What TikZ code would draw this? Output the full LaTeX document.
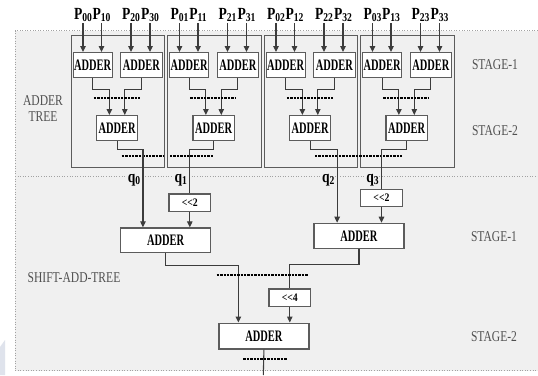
\documentclass[tikz,border=0pt]{standalone}
\usepackage{fontspec}
\setmainfont{Liberation Serif}
\usepackage{graphicx}
\usetikzlibrary{arrows.meta}

% horizontally condensed text
\newcommand{\narrowtxt}[2][0.76]{\scalebox{#1}[1]{#2}}
% lowered, smaller index digits
\newcommand{\subidx}[1]{\raisebox{-0.3ex}{\fontsize{12}{12}\selectfont #1}}

\definecolor{bgfill}{HTML}{F0F0F0}
\definecolor{boxline}{HTML}{5C5C5C}
\definecolor{wireline}{HTML}{3C3C3C}
\definecolor{dotline}{HTML}{A2A2A2}
\definecolor{sidetext}{HTML}{505050}
\definecolor{pagetint}{HTML}{DFE3EC}

\tikzset{
  addbox/.style={draw=boxline, line width=1.3pt, fill=white, inner sep=0pt,
    anchor=north west, font=\fontsize{16}{16}\selectfont\bfseries},
  shiftbox/.style={draw=boxline, line width=1.3pt, fill=white, inner sep=0pt,
    anchor=north west, font=\fontsize{11.5}{11.5}\selectfont\bfseries},
  groupbox/.style={draw=boxline, line width=1.2pt, inner sep=0pt, anchor=north west},
  wire/.style={draw=wireline, line width=1.1pt},
  arr/.style={wire, -{Triangle[length=6pt,width=5.5pt]}},
  regline/.style={draw=black, line width=1.7pt, dash pattern=on 2.4pt off 1pt},
  dotborder/.style={draw=dotline, line width=1pt, dash pattern=on 1pt off 1.6pt},
  plabel/.style={inner sep=1pt, anchor=base, font=\fontsize{17}{17}\selectfont\bfseries},
  qlabel/.style={inner sep=0.6pt, anchor=base east, fill=bgfill,
    font=\fontsize{17}{17}\selectfont\bfseries},
  sidelabel/.style={text=sidetext, align=center, inner sep=0pt,
    font=\fontsize{15}{15.7}\selectfont},
}

\begin{document}
\begin{tikzpicture}[x=1pt, y=-1pt]
\useasboundingbox (0,0) rectangle (538,375);
\fill[white] (0,0) rectangle (538,375);

% shaded panel with dotted frame
\fill[pagetint] (0,347) -- (5,340) -- (5,375) -- (0,375) -- cycle;
\fill[bgfill] (15,30.7) rectangle (538,370.7);
\draw[dotborder] (538,30.7) -- (15,30.7) -- (15,370.7) -- (538,370.7);
\draw[dotborder] (15,176.7) -- (538,176.7);

% side captions
\node[sidelabel] (lbltree) at (43,108.5) {\narrowtxt[0.77]{ADDER}\\\narrowtxt[0.77]{TREE}};
\node[sidelabel] (lblshift) at (74,278) {\narrowtxt[0.77]{SHIFT-ADD-TREE}};
\node[sidelabel] (lbls1a) at (495,65) {\narrowtxt[0.77]{STAGE-1}};
\node[sidelabel] (lbls2a) at (495,131) {\narrowtxt[0.77]{STAGE-2}};
\node[sidelabel] (lbls1b) at (494,237) {\narrowtxt[0.77]{STAGE-1}};
\node[sidelabel] (lbls2b) at (494,337) {\narrowtxt[0.77]{STAGE-2}};

% four adder trees, one per column j
\foreach \g/\ox in {1/70.5, 2/167, 3/263.5, 4/360} {
  \pgfmathtruncatemacro{\j}{\g-1}
  \node[groupbox, minimum width=93.5pt, minimum height=131.7pt] (g\g) at (\ox,35) {};
  \node[addbox, minimum width=39pt, minimum height=24.7pt] (g\g-a) at (\ox+2,52) {\narrowtxt[0.65]{ADDER}};
  \node[addbox, minimum width=41.5pt, minimum height=24.7pt] (g\g-b) at (\ox+49.5,52) {\narrowtxt[0.65]{ADDER}};
  \node[addbox, minimum width=41.3pt, minimum height=25pt] (g\g-c) at (\ox+25.3,115) {\narrowtxt[0.65]{ADDER}};
  % inputs P_kj
  \foreach \k/\dx in {0/12.5, 1/31, 2/60.5, 3/79.5} {
    \node[plabel] (p\k-\j) at (\ox+\dx,19.5) {\narrowtxt[0.8]{P\subidx{\k\j}}};
    \draw[arr] (p\k-\j.south) -- (p\k-\j.south |- g\g-a.north);
  }
  % first-level sums into the second-level adder
  \draw[arr] (g\g-a.south) -- ++(0,11.3) -| ([xshift=-7.7pt]g\g-c.north);
  \draw[arr] (g\g-b.south) -- ++(0,11.3) -| ([xshift=7.7pt]g\g-c.north);
  \draw[regline] (\ox+23.3,98) -- (\ox+69.3,98);
}

% pipeline cuts below the adder trees
\draw[regline] (121.7,156) -- (164,156);
\draw[regline] (170,156) -- (213,156);
\draw[regline] (315,156) -- (403,156);

% shift-add tree
\node[shiftbox, minimum width=41.7pt, minimum height=17.4pt] (sh1) at (168.3,193.3) {\narrowtxt[0.85]{<{}<2}};
\node[addbox, minimum width=90pt, minimum height=24.4pt] (sL) at (120,227.3) {\narrowtxt[0.65]{ADDER}\hspace{17pt}};
\node[shiftbox, minimum width=41.7pt, minimum height=16.7pt] (sh2) at (360,189) {\narrowtxt[0.85]{<{}<2}};
\node[addbox, minimum width=90pt, minimum height=25pt] (sR) at (313.3,222.7) {\narrowtxt[0.65]{ADDER}\hspace{15pt}};
\node[shiftbox, minimum width=41.7pt, minimum height=17.7pt] (sh4) at (268.3,288.3) {\narrowtxt[0.85]{<{}<4}};
\node[addbox, minimum width=90pt, minimum height=25.8pt] (fin) at (218.3,322.5) {\narrowtxt[0.65]{ADDER}\hspace{15pt}};
\coordinate (out) at (263.3,375);

% partial sums q0..q3
\draw[arr] (g1-c.south) -- ++(0,8.3) -| ([xshift=-22.7pt]sL.north);
\draw[wire] (g2-c.south) -- ++(0,8.3) -| (sh1.north);
\draw[arr] (sh1.south) -- (sh1.south |- sL.north);
\draw[arr] (g3-c.south) -- ++(0,8.3) -| ([xshift=-21.8pt]sR.north);
\draw[wire] (g4-c.south) -- ++(0,8.3) -| (sh2.north);
\draw[arr] (sh2.south) -- (sh2.south |- sR.north);

\node[qlabel] (q0) at (141,182) {\narrowtxt[0.8]{q\subidx{0}}};
\node[qlabel] (q1) at (187.8,182) {\narrowtxt[0.8]{q\subidx{1}}};
\node[qlabel] (q2) at (335.2,182) {\narrowtxt[0.8]{q\subidx{2}}};
\node[qlabel] (q3) at (379.5,182) {\narrowtxt[0.8]{q\subidx{3}}};

% second stage of the shift-add tree
\draw[arr] (sL.south) -- ++(0,12.3) -| ([xshift=-25.6pt]fin.north);
\draw[wire] (sR.south) -- ++(0,15.6) -| (sh4.north);
\draw[arr] (sh4.south) -- (sh4.south |- fin.north);
\draw[regline] (216.7,275) -- (308.3,275);
\draw[wire] (fin.south) -- (out);
\draw[regline] (243.3,359) -- (287.3,359);
\end{tikzpicture}
\end{document}
